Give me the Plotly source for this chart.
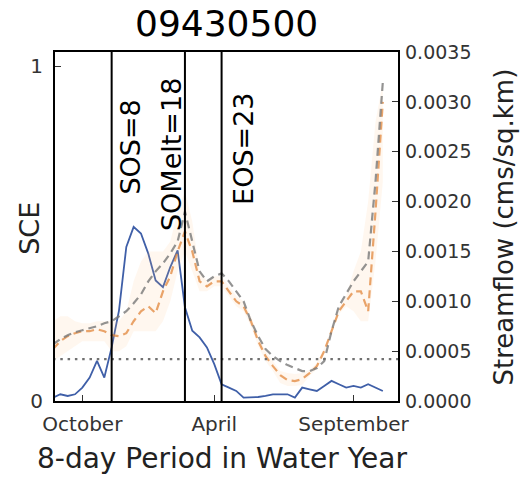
import plotly.graph_objects as go

# ---- data ----
periods = list(range(46))
sce = [0.01, 0.02, 0.015, 0.02, 0.04, 0.07, 0.12, 0.07, 0.16, 0.27,
       0.46, 0.52, 0.50, 0.44, 0.36, 0.34, 0.40, 0.45, 0.28, 0.21,
       0.19, 0.16, 0.11, 0.05, 0.04, 0.03, 0.01, 0.01, 0.012, 0.015,
       0.02, 0.02, 0.02, 0.01, 0.04, 0.035, 0.03, 0.045, 0.06, 0.05,
       0.04, 0.045, 0.04, 0.05, 0.04, 0.03]
flow_mean = [0.00057, 0.00062, 0.00066, 0.00069, 0.00071, 0.00073, 0.00075, 0.00078, 0.0008, 0.00085,
             0.0009, 0.00098, 0.00107, 0.0012, 0.0013, 0.00138, 0.00148, 0.0016, 0.0019, 0.0016,
             0.0013, 0.0012, 0.00125, 0.00128, 0.0012, 0.0011, 0.001, 0.0008, 0.00065, 0.00052,
             0.00045, 0.0004, 0.00036, 0.00033, 0.0003, 0.0003, 0.00033, 0.0004, 0.0007, 0.00095,
             0.00108, 0.0012, 0.0013, 0.0014, 0.0022, 0.0032]
flow_year = [0.00052, 0.0006, 0.00065, 0.00068, 0.0007, 0.0007, 0.00072, 0.0007, 0.00066, 0.00065,
             0.00068, 0.0008, 0.0009, 0.00095, 0.00088, 0.0011, 0.00125, 0.0015, 0.0017, 0.0015,
             0.0012, 0.00115, 0.0012, 0.0012, 0.0011, 0.001, 0.00095, 0.0008, 0.0006, 0.00045,
             0.00035, 0.00026, 0.00021, 0.0002, 0.00022, 0.00028, 0.00035, 0.0005, 0.0007, 0.0009,
             0.001, 0.0011, 0.0011, 0.0009, 0.0019, 0.003]
flow_lo = [0.0004, 0.00045, 0.0005, 0.00055, 0.0006, 0.0006, 0.0006, 0.0006, 0.0005, 0.0005,
           0.00055, 0.0007, 0.0007, 0.0007, 0.0007, 0.0008, 0.001, 0.0013, 0.0015, 0.0013,
           0.0011, 0.0011, 0.00115, 0.00115, 0.00105, 0.00095, 0.0009, 0.00075, 0.00055, 0.0004,
           0.0003, 0.00018, 0.00015, 0.00015, 0.00016, 0.00025, 0.00032, 0.00047, 0.00067, 0.00087,
           0.00095, 0.0009, 0.0008, 0.0008, 0.0014, 0.0022]
flow_hi = [0.0008, 0.00085, 0.00085, 0.0008, 0.00078, 0.00078, 0.0008, 0.0008, 0.0008, 0.0008,
           0.0009, 0.0012, 0.0014, 0.0015, 0.0015, 0.0015, 0.0016, 0.0019, 0.0021, 0.0018,
           0.0013, 0.0012, 0.00125, 0.00125, 0.00115, 0.00105, 0.001, 0.00085, 0.00065, 0.0005,
           0.0004, 0.0003, 0.00028, 0.00027, 0.00028, 0.00031, 0.00038, 0.00053, 0.00073, 0.00093,
           0.00105, 0.0013, 0.0015, 0.002, 0.0028, 0.0032]
threshold_flow = 0.00042
event_names = ["SOS", "SOMelt", "EOS"]
event_periods = [8, 18, 23]
month_ticks = [4, 22, 41]
month_labels = ["October", "April", "September"]
station = "09430500"

FONT = "DejaVu Sans"
fig = go.Figure()

# streamflow band and lines (right axis)
fig.add_trace(go.Scatter(x=periods, y=flow_hi, yaxis="y2", mode="lines",
                         line=dict(width=0), hoverinfo="skip", showlegend=False))
fig.add_trace(go.Scatter(x=periods, y=flow_lo, yaxis="y2", mode="lines", fill="tonexty",
                         fillcolor="rgba(255,190,120,0.12)", line=dict(width=0),
                         hoverinfo="skip", showlegend=False))
fig.add_trace(go.Scatter(x=periods, y=flow_year, yaxis="y2", mode="lines",
                         line=dict(color="rgba(225,135,60,0.75)", width=2.2, dash="8px,5px"),
                         showlegend=False))
fig.add_trace(go.Scatter(x=periods, y=flow_mean, yaxis="y2", mode="lines",
                         line=dict(color="rgba(120,120,120,0.8)", width=2.2, dash="8px,5px"),
                         showlegend=False))
fig.add_trace(go.Scatter(x=[periods[0] - 1, periods[-1] + 3], y=[threshold_flow] * 2, yaxis="y2",
                         mode="lines", line=dict(color="#707070", width=2.4, dash="2.5px,4.8px"),
                         showlegend=False))

# SCE line (left axis)
fig.add_trace(go.Scatter(x=periods, y=sce, mode="lines",
                         line=dict(color="#3f5fa8", width=1.8), showlegend=False))

# event lines and labels
label_pos = {"SOS": (10.64, 0.609), "SOMelt": (16.1, 0.50), "EOS": (25.9, 0.579)}
for name, p in zip(event_names, event_periods):
    fig.add_vline(x=p, line=dict(color="black", width=2))
    lx, ly = label_pos[name]
    fig.add_annotation(x=lx, y=ly, xref="x", yref="y", text=f"{name}={p}", textangle=-90,
                       showarrow=False, xanchor="center", yanchor="bottom",
                       font=dict(family=FONT, size=27, color="black"))

# titles as annotations
fig.add_annotation(x=0.5, y=1.082, xref="paper", yref="paper", text=station, showarrow=False,
                   xanchor="center", yanchor="middle", font=dict(family=FONT, size=36, color="black"))
fig.add_annotation(x=0.487, y=-0.166, xref="paper", yref="paper", text="8-day Period in Water Year",
                   showarrow=False, xanchor="center", yanchor="middle",
                   font=dict(family=FONT, size=28, color="#222"))
fig.add_annotation(x=-0.073, y=0.496, xref="paper", yref="paper", text="SCE", textangle=-90,
                   showarrow=False, xanchor="center", yanchor="middle",
                   font=dict(family=FONT, size=27, color="#222"))
fig.add_annotation(x=1.309, y=0.50, xref="paper", yref="paper", text="Streamflow (cms/sq.km)",
                   textangle=-90, showarrow=False, xanchor="center", yanchor="middle",
                   font=dict(family=FONT, size=26, color="#222"))

fig.update_layout(
    width=526, height=480,
    margin=dict(l=55, r=128, t=52, b=79),
    paper_bgcolor="white", plot_bgcolor="white",
    font=dict(family=FONT, color="#222"),
    showlegend=False,
    xaxis=dict(range=[0.27, 47.07], tickvals=month_ticks, ticktext=month_labels,
               ticks="inside", ticklen=6, tickcolor="#333", showgrid=False, zeroline=False,
               showline=True, mirror=True, linecolor="black", linewidth=2,
               ticklabelstandoff=4,
               tickfont=dict(family=FONT, size=20, color="#333")),
    yaxis=dict(range=[0, 1.042], tickvals=[0, 1], ticktext=["0", "1"],
               ticks="inside", ticklen=6, tickcolor="#333", showgrid=False, zeroline=False,
               showline=True, mirror=True, linecolor="black", linewidth=2,
               ticklabelstandoff=6,
               tickfont=dict(family=FONT, size=20, color="#333")),
    yaxis2=dict(range=[0, 0.0035], dtick=0.0005, tickformat=".4f", overlaying="y", side="right",
                ticks="inside", ticklen=6, tickcolor="#333", showgrid=False, zeroline=False,
                showline=False, ticklabelstandoff=6,
                tickfont=dict(family=FONT, size=19, color="#333")),
)

fig.write_html("out.html", config={"displayModeBar": False},
               post_script="document.body.style.margin='0';document.body.style.overflow='hidden';")
